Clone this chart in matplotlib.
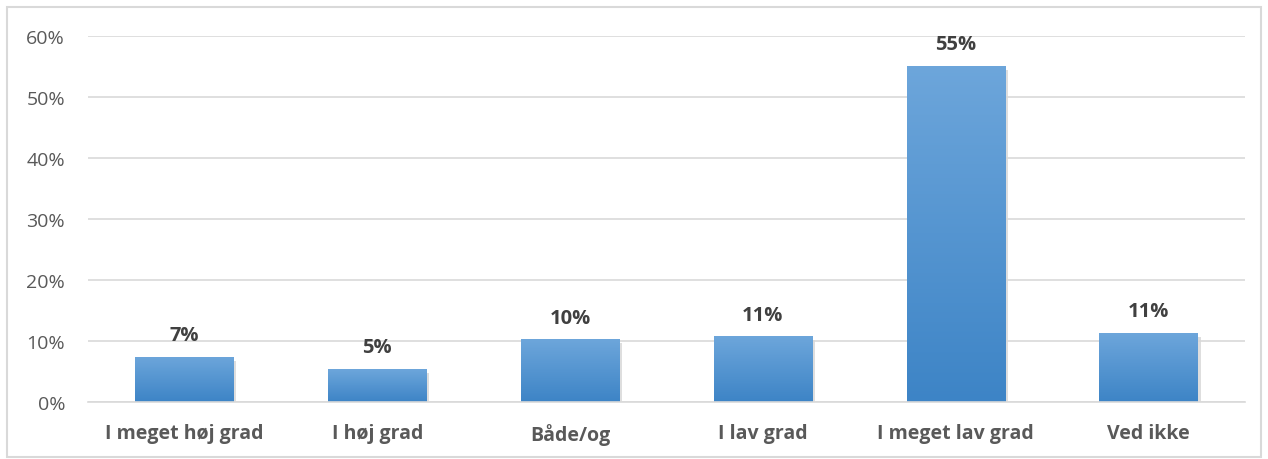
import matplotlib.pyplot as plt
import matplotlib.patches as mpatches
import numpy as np

categories = ['I meget høj grad', 'I høj grad', 'Både/og', 'I lav grad', 'I meget lav grad', 'Ved ikke']
values = [7.4, 5.4, 10.3, 10.8, 55.1, 11.3]
labels = ['7%', '5%', '10%', '11%', '55%', '11%']

plt.rcParams['font.family'] = ['Open Sans', 'DejaVu Sans']

fig = plt.figure(figsize=(12.68, 4.6), dpi=100)
# outer chart border
fig.patches.append(mpatches.Rectangle((7 / 1268, 2 / 460), 1254 / 1268, 450 / 460,
                                      transform=fig.transFigure, fill=False,
                                      edgecolor='#d9d9d9', linewidth=1.5))

ax = fig.add_axes([88 / 1268, 57 / 460, 1157 / 1268, 366 / 460])
x = np.arange(len(categories))
bars = ax.bar(x, values, width=0.51, color='#5b9bd5', zorder=2)

# gradient fill for bars
grad = np.linspace(0, 1, 256).reshape(-1, 1)
top_c = np.array([0x6d, 0xa6, 0xdb]) / 255
bot_c = np.array([0x3d, 0x84, 0xc6]) / 255
img = top_c * (1 - grad[..., None]) + bot_c * grad[..., None]
img = img.reshape(256, 1, 3)
for b in bars:
    # shadow
    sh = mpatches.Rectangle((b.get_x() + 0.015, -0.6), b.get_width(), b.get_height(),
                            color='#bfbfbf', alpha=0.5, zorder=1.5, linewidth=0)
    ax.add_patch(sh)
    b.set_facecolor('none')
    b.set_edgecolor('none')
    im = ax.imshow(img, extent=[b.get_x(), b.get_x() + b.get_width(), 0, b.get_height()],
                   aspect='auto', zorder=2.5, origin='upper')
    im.set_clip_path(b)

for xi, v, lab in zip(x, values, labels):
    ax.text(xi, v + 1.9, lab, ha='center', va='bottom', fontsize=14.5,
            fontweight='bold', color='#404040')

ax.set_xlim(-0.5, len(categories) - 0.5)
ax.set_ylim(0, 60)
ax.set_yticks(range(0, 61, 10))
ax.set_yticklabels([f'{t}%' for t in range(0, 61, 10)], fontsize=14, color='#595959')
ax.set_xticks(x)
ax.set_xticklabels(categories, fontsize=14, fontweight='bold', color='#595959')
ax.tick_params(axis='both', length=0)
ax.tick_params(axis='y', pad=16.5)
ax.tick_params(axis='x', pad=15)
ax.grid(axis='y', color='#d9d9d9', linewidth=1.2, zorder=0)
for s in ['top', 'right', 'left']:
    ax.spines[s].set_visible(False)
ax.spines['bottom'].set_color('#d9d9d9')
ax.spines['bottom'].set_linewidth(1.2)

fig.savefig('out.png', dpi=100)
